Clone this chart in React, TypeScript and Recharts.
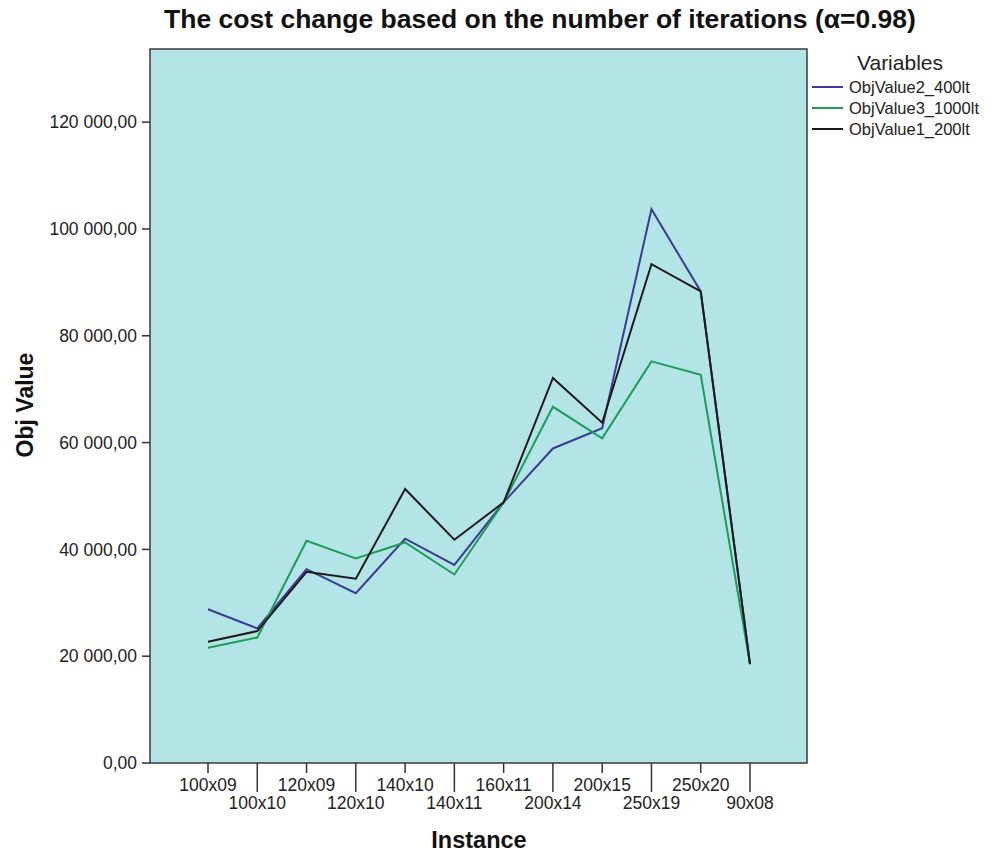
import React from 'react';
import { LineChart, Line, XAxis, YAxis, CartesianGrid, Legend, Customized } from 'recharts';

const categories = ['100x09', '100x10', '120x09', '120x10', '140x10', '140x11', '160x11', '200x14', '200x15', '250x19', '250x20', '90x08'];
const objValue2_400lt = [28800, 25200, 36300, 31800, 42000, 37100, 48800, 58900, 62700, 103700, 88300, 18500];
const objValue3_1000lt = [21600, 23500, 41600, 38300, 41300, 35300, 48800, 66700, 60800, 75200, 72700, 18500];
const objValue1_200lt = [22700, 24700, 35800, 34500, 51300, 41800, 48800, 72100, 63700, 93400, 88300, 18500];
const yTicks = [0, 20000, 40000, 60000, 80000, 100000, 120000];

const seriesInfo = [
  { key: 'ObjValue2_400lt', color: '#3c3c95' },
  { key: 'ObjValue3_1000lt', color: '#1f9c5c' },
  { key: 'ObjValue1_200lt', color: '#1a1a1a' },
];

const data = categories.map((c, i) => ({
  name: c,
  ObjValue2_400lt: objValue2_400lt[i],
  ObjValue3_1000lt: objValue3_1000lt[i],
  ObjValue1_200lt: objValue1_200lt[i],
}));

const FONT = '"Liberation Sans", Arial, sans-serif';
const W = 993;
const H = 856;
const M = { top: 49, right: 186, bottom: 0, left: 0 };
const YW = 150;
const XH = 93;

const fmt = (v: number) => {
  const [int, dec] = v.toFixed(2).split('.');
  return int.replace(/\B(?=(\d{3})+(?!\d))/g, ' ') + ',' + dec;
};

const XTick = (props: any) => {
  const { x, y, payload, index } = props;
  const long = index % 2 === 1;
  return (
    <g>
      <line x1={x} x2={x} y1={y} y2={y + (long ? 29 : 10)} stroke="#333" strokeWidth={1.5} />
      <text x={x} y={y + (long ? 40 : 22)} textAnchor="middle" dominantBaseline="central" fontSize={17.5} fill="#222" fontFamily={FONT}>
        {payload.value}
      </text>
    </g>
  );
};

const Overlay = () => {
  const px = M.left + YW;
  const py = M.top;
  const pw = W - M.left - M.right - YW;
  const ph = H - M.top - M.bottom - XH;
  return (
    <g>
      <rect x={px} y={py} width={pw} height={ph} fill="none" stroke="#3a3a3a" strokeWidth={1.5} />
      <text x={540} y={19} textAnchor="middle" dominantBaseline="central" fontSize={26.5} fontWeight="bold" fill="#111" fontFamily={FONT}>
        The cost change based on the number of iterations (α=0.98)
      </text>
      <text x={25} y={405} textAnchor="middle" dominantBaseline="central" fontSize={23} fontWeight="bold" fill="#111" fontFamily={FONT} transform="rotate(-90 25 405)">
        Obj Value
      </text>
      <text x={479} y={840} textAnchor="middle" dominantBaseline="central" fontSize={23.5} fontWeight="bold" fill="#111" fontFamily={FONT}>
        Instance
      </text>
    </g>
  );
};

const LegendContent = () => (
  <div style={{ position: 'relative', width: 183, height: 95, fontFamily: FONT, color: '#222' }}>
    <div style={{ position: 'absolute', left: 0, width: 180, top: 0, height: 26, lineHeight: '26px', textAlign: 'center', fontSize: 21 }}>
      Variables
    </div>
    {seriesInfo.map((s, i) => (
      <div key={s.key} style={{ position: 'absolute', left: 0, top: 27 + i * 21, height: 20, width: 183 }}>
        <svg width={36} height={20} style={{ position: 'absolute', left: 0, top: 0 }}>
          <line x1={2} x2={33} y1={10} y2={10} stroke={s.color} strokeWidth={2} />
        </svg>
        <span style={{ position: 'absolute', left: 39, top: 0, lineHeight: '20px', fontSize: 16.5, whiteSpace: 'nowrap' }}>{s.key}</span>
      </div>
    ))}
  </div>
);

export default function App() {
  return (
    <div style={{ position: 'absolute', left: 0, top: 0, width: W, height: H, background: '#fff' }}>
      <LineChart width={W} height={H} data={data} margin={M}>
        <CartesianGrid horizontal={false} vertical={false} fill="#b3e5e7" />
        <XAxis
          dataKey="name"
          height={XH}
          padding={{ left: 58, right: 57 }}
          interval={0}
          tickSize={0}
          tickMargin={0}
          axisLine={false}
          tickLine={false}
          tick={<XTick />}
        />
        <YAxis
          width={YW}
          domain={[0, 133700]}
          ticks={yTicks}
          allowDataOverflow
          tickFormatter={fmt}
          tickSize={8}
          tickMargin={5}
          axisLine={false}
          tickLine={{ stroke: '#333', strokeWidth: 1.5 }}
          tick={{ fontSize: 17.5, fill: '#222', fontFamily: FONT }}
        />
        {seriesInfo.map((s) => (
          <Line key={s.key} type="linear" dataKey={s.key} stroke={s.color} strokeWidth={2} dot={false} activeDot={false} isAnimationActive={false} />
        ))}
        <Legend
          layout="horizontal"
          align="center"
          verticalAlign="middle"
          content={<LegendContent />}
          wrapperStyle={{ position: 'absolute', left: 810, top: 50, width: 183, height: 95 }}
        />
        <Customized component={<Overlay />} />
      </LineChart>
    </div>
  );
}
